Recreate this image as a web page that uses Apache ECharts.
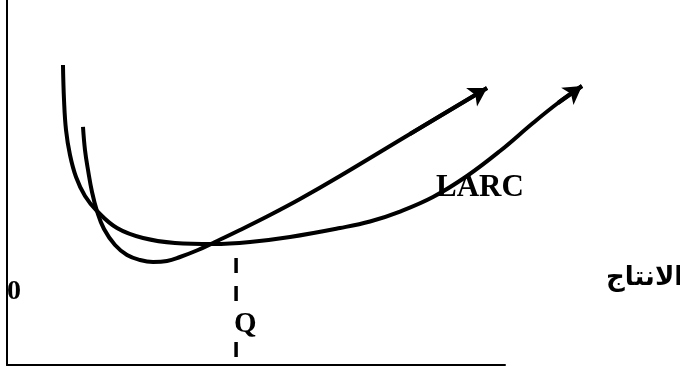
<!DOCTYPE html>
<html>
<head>
<meta charset="utf-8">
<script src="https://cdn.jsdelivr.net/npm/echarts@6/dist/echarts.min.js"></script>
<style>
  html, body { margin: 0; padding: 0; background: #ffffff; }
  #chart { width: 680px; height: 367px; }
</style>
</head>
<body>
<div id="chart"></div>
<script>
// Short-run average cost curve (steeper U): [quantity, cost]
const sracCurve = [
  [15.26, 65.21], [15.66, 58.90], [16.27, 53.42], [17.07, 47.40], [18.07, 42.19],
  [19.48, 37.26], [21.69, 32.88], [24.10, 30.14], [26.71, 28.77], [29.32, 28.22],
  [32.13, 28.49], [34.74, 29.59], [38.35, 31.51], [41.77, 33.70], [46.79, 36.99],
  [52.81, 41.10], [58.84, 45.48], [66.87, 51.78], [80.92, 63.29], [96.39, 75.89]
];

// Long-run average cost curve (flatter envelope): [quantity, cost]
const larcCurve = [
  [11.24, 82.19], [11.45, 72.60], [11.85, 64.38], [12.65, 57.53], [13.86, 51.51],
  [15.66, 46.30], [18.07, 42.19], [22.09, 37.53], [27.31, 34.79], [33.73, 33.42],
  [41.37, 33.15], [48.80, 33.70], [56.83, 35.07], [66.87, 37.53], [72.89, 39.32],
  [78.92, 42.05], [85.54, 46.03], [92.37, 51.78], [99.00, 58.63], [105.62, 66.30],
  [110.64, 71.78], [115.46, 76.44]
];

// Output level Q where the two curves touch, and the dashed drop line to the axis
const qLevel = 46.0;
const qDropTop = 29.3;
const qDropBottom = 2.2;
const qLabelHeight = 11.0;

// Axis scale: the drawn axes span 0..100; the plotting layer is wider so the
// long-run curve can run past the end of the quantity axis.
const axisMax = 100;
const plotXMax = 135.14;

// Text labels
const originLabel = '0';
const qLabel = 'Q';
const curveLabel = 'LARC';
const xAxisTitle = 'الانتاج';

function arrowHead(points) {
  const n = points.length;
  return [[
    { coord: points[n - 2], symbol: 'none' },
    { coord: points[n - 1], symbol: 'arrow' }
  ]];
}

const serifBold = { fontFamily: '"Liberation Serif", "Times New Roman", serif', fontWeight: 'bold' };
const hiddenAxis = {
  axisLine: { show: false }, axisTick: { show: false },
  axisLabel: { show: false }, splitLine: { show: false }
};
const shownAxis = {
  axisLine: { show: true, onZero: false, lineStyle: { color: '#000', width: 2 } },
  axisTick: { show: false }, axisLabel: { show: false }, splitLine: { show: false }
};
const curveLine = { color: '#000', width: 4 };

const chart = echarts.init(document.getElementById('chart'));
chart.setOption({
  backgroundColor: '#ffffff',
  animation: false,
  grid: [
    { left: 7, right: 175, top: 0, bottom: 2 },
    { left: 7, right: 0, top: 0, bottom: 2 }
  ],
  xAxis: [
    { type: 'value', gridIndex: 0, min: 0, max: axisMax, ...shownAxis },
    { type: 'value', gridIndex: 1, min: 0, max: plotXMax, ...hiddenAxis }
  ],
  yAxis: [
    { type: 'value', gridIndex: 0, min: 0, max: 100, ...shownAxis },
    { type: 'value', gridIndex: 1, min: 0, max: 100, ...hiddenAxis }
  ],
  series: [
    {
      name: 'SRAC', type: 'line', xAxisIndex: 1, yAxisIndex: 1,
      data: sracCurve, smooth: 0.4, symbol: 'none',
      lineStyle: curveLine,
      markLine: {
        silent: true, symbolSize: [16, 18], precision: 4,
        label: { show: false },
        lineStyle: { ...curveLine, type: 'solid' },
        data: arrowHead(sracCurve)
      }
    },
    {
      name: 'LARC', type: 'line', xAxisIndex: 1, yAxisIndex: 1,
      data: larcCurve, smooth: 0.4, symbol: 'none',
      lineStyle: curveLine,
      markLine: {
        silent: true, symbolSize: [16, 18], precision: 4,
        label: { show: false },
        lineStyle: { ...curveLine, type: 'solid' },
        data: arrowHead(larcCurve)
      }
    },
    {
      name: 'Q', type: 'line', xAxisIndex: 0, yAxisIndex: 0,
      data: [[qLevel, qDropTop], [qLevel, qDropBottom]],
      symbol: 'none',
      lineStyle: { color: '#000', width: 3.5, type: [15, 13] }
    },
    {
      name: 'Q label', type: 'scatter', xAxisIndex: 0, yAxisIndex: 0,
      data: [[qLevel, qLabelHeight]],
      symbolSize: 0, z: 5, itemStyle: { color: '#000', opacity: 1 },
      label: {
        show: true, position: 'right', distance: 0, offset: [-3, 0],
        formatter: qLabel, color: '#000', fontSize: 29, ...serifBold,
        textBorderWidth: 0, opacity: 1,
        backgroundColor: '#ffffff', padding: [0, 1]
      }
    }
  ],
  graphic: [
    {
      type: 'text', left: 7, top: 278,
      style: { text: originLabel, fill: '#000', fontSize: 28, ...serifBold }
    },
    {
      type: 'text', left: 436, top: 172, z: 10,
      style: { text: curveLabel, fill: '#000', fontSize: 31, ...serifBold }
    },
    {
      type: 'text', left: 606, top: 265,
      style: { text: xAxisTitle, fill: '#000', fontSize: 26, fontWeight: 'bold', fontFamily: '"DejaVu Sans", "Noto Sans", sans-serif' }
    }
  ]
});
</script>
</body>
</html>
